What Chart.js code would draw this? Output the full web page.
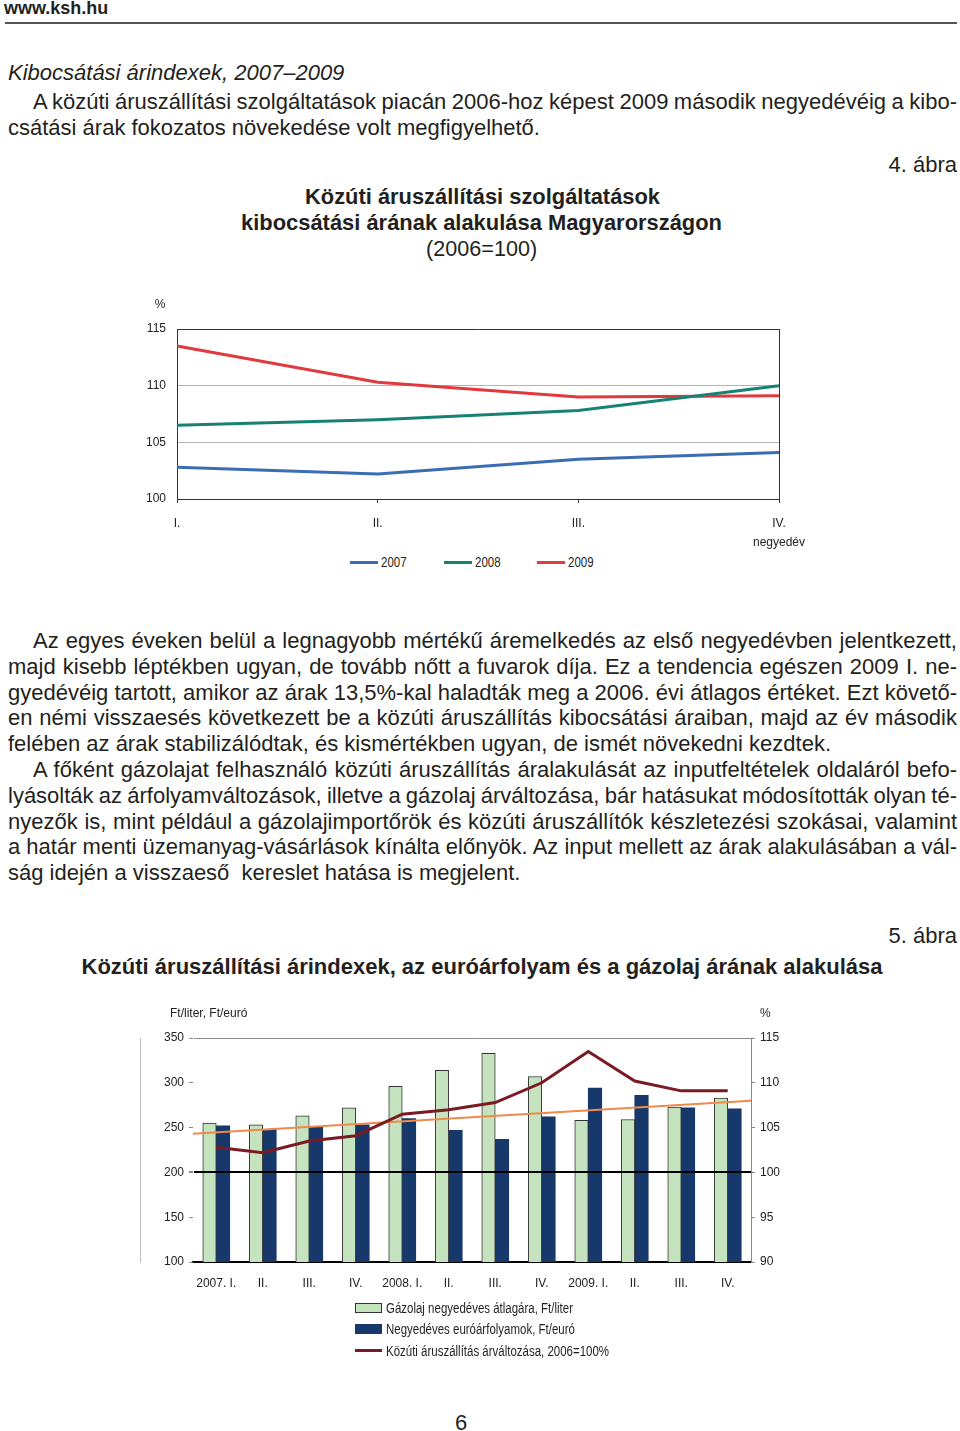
<!DOCTYPE html>
<html lang="hu">
<head>
<meta charset="utf-8">
<title>Kibocsátási árindexek, 2007–2009</title>
<script src="https://cdn.jsdelivr.net/npm/chart.js@4.4.1/dist/chart.umd.min.js"></script>
<style>
  html, body { margin: 0; padding: 0; background: #fff; }
  body { width: 960px; height: 1431px; position: relative; overflow: hidden;
         font-family: "Liberation Sans", Arial, sans-serif; color: #231f20; }
  .abs { position: absolute; white-space: nowrap; }
  .line { position: absolute; height: 24px; line-height: 24px; font-size: 22px; white-space: nowrap; }
  .j { text-align: justify; text-align-last: justify; word-spacing: -3px; }
  .nar { display: inline-block; transform: scaleX(0.82); transform-origin: left center; }
  .ctitle { position: absolute; left: 182px; width: 600px; text-align: center; font-size: 22px; height: 26px; line-height: 26px; }
  .ctitle span { display: inline-block; transform-origin: center center; }
  .legend1 { position: absolute; top: 554px; left: 350px; height: 16px; display: flex; font-size: 14px; }
  .legend1 .item { width: 93.5px; display: flex; align-items: center; }
  .legend1 .sw { width: 28px; height: 3px; margin-right: 3px; }
  .legend2 { position: absolute; left: 355px; top: 1297px; font-size: 14px; }
  .legend2 .item { height: 21.5px; display: flex; align-items: center; }
  .legend2 .sw { width: 27px; margin-right: 4px; box-sizing: border-box; }
</style>
</head>
<body>

<div class="abs" style="left:4px;top:-2px;font-size:18px;font-weight:bold;line-height:20px;">www.ksh.hu</div>
<div class="abs" style="left:5px;top:22px;width:952px;height:0;border-top:2px solid #555;"></div>

<div class="line" style="left:8px;top:61px;font-style:italic;">Kibocsátási árindexek, 2007–2009</div>
<div class="line j" style="left:33px;top:90px;width:924px;">A közúti áruszállítási szolgáltatások piacán 2006-hoz képest 2009 második negyedévéig a kibo-</div>
<div class="line" style="left:8px;top:116px;">csátási árak fokozatos növekedése volt megfigyelhető.</div>

<div class="line" style="left:757px;top:153px;width:200px;text-align:right;">4. ábra</div>
<div class="ctitle" style="top:184px;font-weight:bold;"><span data-fit="355">Közúti áruszállítási szolgáltatások</span></div>
<div class="ctitle" style="top:210px;font-weight:bold;"><span data-fit="481">kibocsátási árának alakulása Magyarországon</span></div>
<div class="ctitle" style="top:236px;"><span data-fit="111">(2006=100)</span></div>

<canvas id="chart1" class="abs" style="left:120px;top:290px;"></canvas>
<div id="legend1" class="legend1"></div>

<div class="line j" style="left:33px;top:629px;width:924px;">Az egyes éveken belül a legnagyobb mértékű áremelkedés az első negyedévben jelentkezett,</div>
<div class="line j" style="left:8px;top:655px;width:949px;">majd kisebb léptékben ugyan, de tovább nőtt a fuvarok díja. Ez a tendencia egészen 2009 I. ne-</div>
<div class="line j" style="left:8px;top:681px;width:949px;">gyedévéig tartott, amikor az árak 13,5%-kal haladták meg a 2006. évi átlagos értéket. Ezt követő-</div>
<div class="line j" style="left:8px;top:706px;width:949px;">en némi visszaesés következett be a közúti áruszállítás kibocsátási áraiban, majd az év második</div>
<div class="line" style="left:8px;top:732px;">felében az árak stabilizálódtak, és kismértékben ugyan, de ismét növekedni kezdtek.</div>
<div class="line j" style="left:33px;top:758px;width:924px;">A főként gázolajat felhasználó közúti áruszállítás áralakulását az inputfeltételek oldaláról befo-</div>
<div class="line j" style="left:8px;top:784px;width:949px;">lyásolták az árfolyamváltozások, illetve a gázolaj árváltozása, bár hatásukat módosították olyan té-</div>
<div class="line j" style="left:8px;top:810px;width:949px;">nyezők is, mint például a gázolajimportőrök és közúti áruszállítók készletezési szokásai, valamint</div>
<div class="line j" style="left:8px;top:835px;width:949px;">a határ menti üzemanyag-vásárlások kínálta előnyök. Az input mellett az árak alakulásában a vál-</div>
<div class="line" style="left:8px;top:861px;white-space:pre;">ság idején a visszaeső  kereslet hatása is megjelent.</div>

<div class="line" style="left:757px;top:924px;width:200px;text-align:right;">5. ábra</div>
<div class="line" style="left:0;top:955px;width:964px;text-align:center;font-weight:bold;">Közúti áruszállítási árindexek, az euróárfolyam és a gázolaj árának alakulása</div>

<canvas id="chart2" class="abs" style="left:140px;top:995px;"></canvas>
<div id="legend2" class="legend2"></div>

<div class="line" style="left:455px;top:1411px;">6</div>

<script>
const FONT = '"Liberation Sans", Arial, sans-serif';

// --- 4. ábra: quarterly index, 2006 = 100 ---
const quarters = ["I.", "II.", "III.", ["IV.", "negyedév"]];
const years = ["2007", "2008", "2009"];
const index2007 = [102.8, 102.2, 103.5, 104.1];
const index2008 = [106.5, 107.0, 107.8, 110.0];
const index2009 = [113.5, 110.3, 109.0, 109.1];
const yearColors = ["#3b6db4", "#178273", "#e03a3e"];

// --- 5. ábra: diesel price, EUR rate, freight index ---
const periods = ["2007. I.", "II.", "III.", "IV.", "2008. I.", "II.", "III.", "IV.", "2009. I.", "II.", "III.", "IV."];
const dieselPrice = [255, 253, 263, 272, 296, 314, 333, 307, 258, 259, 273, 283];
const euroRate = [252, 248, 251, 253, 260, 247, 237, 262, 294, 286, 272, 271];
const freightIndex = [102.8, 102.2, 103.5, 104.1, 106.5, 107.0, 107.8, 110.0, 113.5, 110.2, 109.1, 109.1];
const trendEnds = [243, 280]; // trend line values at the two plot edges (Ft)
const seriesNames = ["Gázolaj negyedéves átlagára, Ft/liter", "Negyedéves euróárfolyamok, Ft/euró", "Közúti áruszállítás árváltozása, 2006=100%"];

Chart.defaults.font.family = FONT;
Chart.defaults.font.size = 12;
Chart.defaults.color = "#222";
Chart.defaults.animation = false;

// squeeze the chart titles like the narrow face of the original
document.querySelectorAll("[data-fit]").forEach(el => {
  el.style.transform = `scaleX(${el.dataset.fit / el.getBoundingClientRect().width})`;
});

// small unit captions drawn next to the axes
const unitLabels = {
  id: "unitLabels",
  afterDraw(chart, args, opts) {
    const { ctx, chartArea } = chart;
    ctx.save();
    ctx.font = "12px " + FONT;
    ctx.fillStyle = "#222";
    ctx.textBaseline = "middle";
    (opts.items || []).forEach(it => {
      ctx.textAlign = it.align;
      ctx.fillText(it.text, chartArea[it.side] + it.dx, chartArea.top + it.dy);
    });
    ctx.restore();
  }
};

// ---------- chart 1 ----------
const c1 = document.getElementById("chart1");
c1.width = 720; c1.height = 262;
const chart1 = new Chart(c1, {
  type: "line",
  data: {
    labels: quarters,
    datasets: [index2007, index2008, index2009].map((d, i) => ({
      label: years[i],
      data: d,
      borderColor: yearColors[i],
      backgroundColor: yearColors[i],
      borderWidth: 3,
      pointRadius: 0,
      tension: 0
    }))
  },
  options: {
    responsive: false,
    layout: { padding: { top: 39, right: 61, left: 0, bottom: 3 } },
    plugins: {
      legend: { display: false },
      tooltip: { enabled: false },
      unitLabels: { items: [{ text: "%", side: "left", dx: -17, dy: -24, align: "center" }] }
    },
    scales: {
      x: {
        offset: false,
        afterFit: s => { s.height = 50; },
        ticks: { padding: 11, maxRotation: 0, autoSkip: false, font: { size: 12, lineHeight: 1.6 } },
        grid: {
          color: c => (c.index === 0 || c.index === quarters.length - 1) ? "#333" : "transparent",
          tickColor: "#333",
          tickLength: 4
        },
        border: { color: "#333" }
      },
      y: {
        min: 100, max: 115,
        afterFit: s => { s.width = 57; },
        ticks: { stepSize: 5, padding: 11 },
        grid: {
          drawTicks: false,
          color: c => (c.tick.value === 100 || c.tick.value === 115) ? "#333" : "#b3b3b3"
        },
        border: { color: "#333" }
      }
    }
  },
  plugins: [unitLabels]
});

const lg1 = document.getElementById("legend1");
chart1.data.datasets.forEach(ds => {
  const it = document.createElement("div");
  it.className = "item";
  it.innerHTML = `<span class="sw" style="background:${ds.borderColor}"></span><span class="nar">${ds.label}</span>`;
  lg1.appendChild(it);
});

// ---------- chart 2 ----------
const c2 = document.getElementById("chart2");
c2.width = 680; c2.height = 305;
const chart2 = new Chart(c2, {
  type: "bar",
  data: {
    labels: periods,
    datasets: [
      {
        type: "line", label: seriesNames[2], data: freightIndex, yAxisID: "y2",
        borderColor: "#7a1a22", backgroundColor: "#7a1a22", borderWidth: 3, pointRadius: 0, order: 0
      },
      {
        // trend runs edge to edge: category positions -0.5 / n-0.5, so no parsing
        type: "line", label: "trend", parsing: false,
        data: [{ x: -0.5, y: trendEnds[0] }, { x: periods.length - 0.5, y: trendEnds[1] }],
        yAxisID: "y", borderColor: "#f08a4b", borderWidth: 2, pointRadius: 0, order: 1
      },
      {
        type: "bar", label: seriesNames[0], data: dieselPrice, yAxisID: "y",
        backgroundColor: "#c6e3c0", borderColor: "#333", borderWidth: 1,
        order: 2
      },
      {
        type: "bar", label: seriesNames[1], data: euroRate, yAxisID: "y",
        backgroundColor: "#17386a", borderWidth: 0,
        order: 3
      }
    ]
  },
  options: {
    responsive: false,
    barThickness: 13.5,
    layout: { padding: { top: 43, right: 24, left: 0, bottom: 8 } },
    plugins: {
      legend: { display: false },
      tooltip: { enabled: false },
      unitLabels: {
        items: [
          { text: "Ft/liter, Ft/euró", side: "left", dx: -23, dy: -24, align: "left" },
          { text: "%", side: "right", dx: 9, dy: -24, align: "left" }
        ]
      }
    },
    scales: {
      x: {
        type: "category",
        afterFit: s => { s.height = 30; },
        ticks: { padding: 6, maxRotation: 0, autoSkip: false },
        grid: { display: false },
        border: { color: "#000", width: 2 }
      },
      y: {
        position: "left", min: 100, max: 350,
        afterFit: s => { s.width = 53; },
        ticks: { stepSize: 50, padding: 5 },
        grid: {
          z: 1,
          color: c => c.tick.value === 200 || c.tick.value === 100 ? "#000" : (c.tick.value === 350 ? "#888" : "transparent"),
          lineWidth: c => c.tick.value === 200 ? 2 : 1,
          tickColor: "#888",
          tickLength: 4
        },
        border: { color: "#888" }
      },
      y2: {
        position: "right", min: 90, max: 115,
        afterFit: s => { s.width = 45; },
        ticks: { stepSize: 5, padding: 5 },
        grid: { drawOnChartArea: false, tickColor: "#888", tickLength: 4 },
        border: { color: "#888" }
      }
    }
  },
  plugins: [unitLabels]
});

const lg2 = document.getElementById("legend2");
[2, 3, 0].forEach(i => {
  const ds = chart2.data.datasets[i];
  const it = document.createElement("div");
  it.className = "item";
  const sw = ds.type === "bar"
    ? `<span class="sw" style="height:10px;background:${ds.backgroundColor};border:${ds.borderWidth ? "1px solid " + ds.borderColor : "none"}"></span>`
    : `<span class="sw" style="height:3px;background:${ds.borderColor}"></span>`;
  it.innerHTML = sw + `<span class="nar">${ds.label}</span>`;
  lg2.appendChild(it);
});
</script>
</body>
</html>
